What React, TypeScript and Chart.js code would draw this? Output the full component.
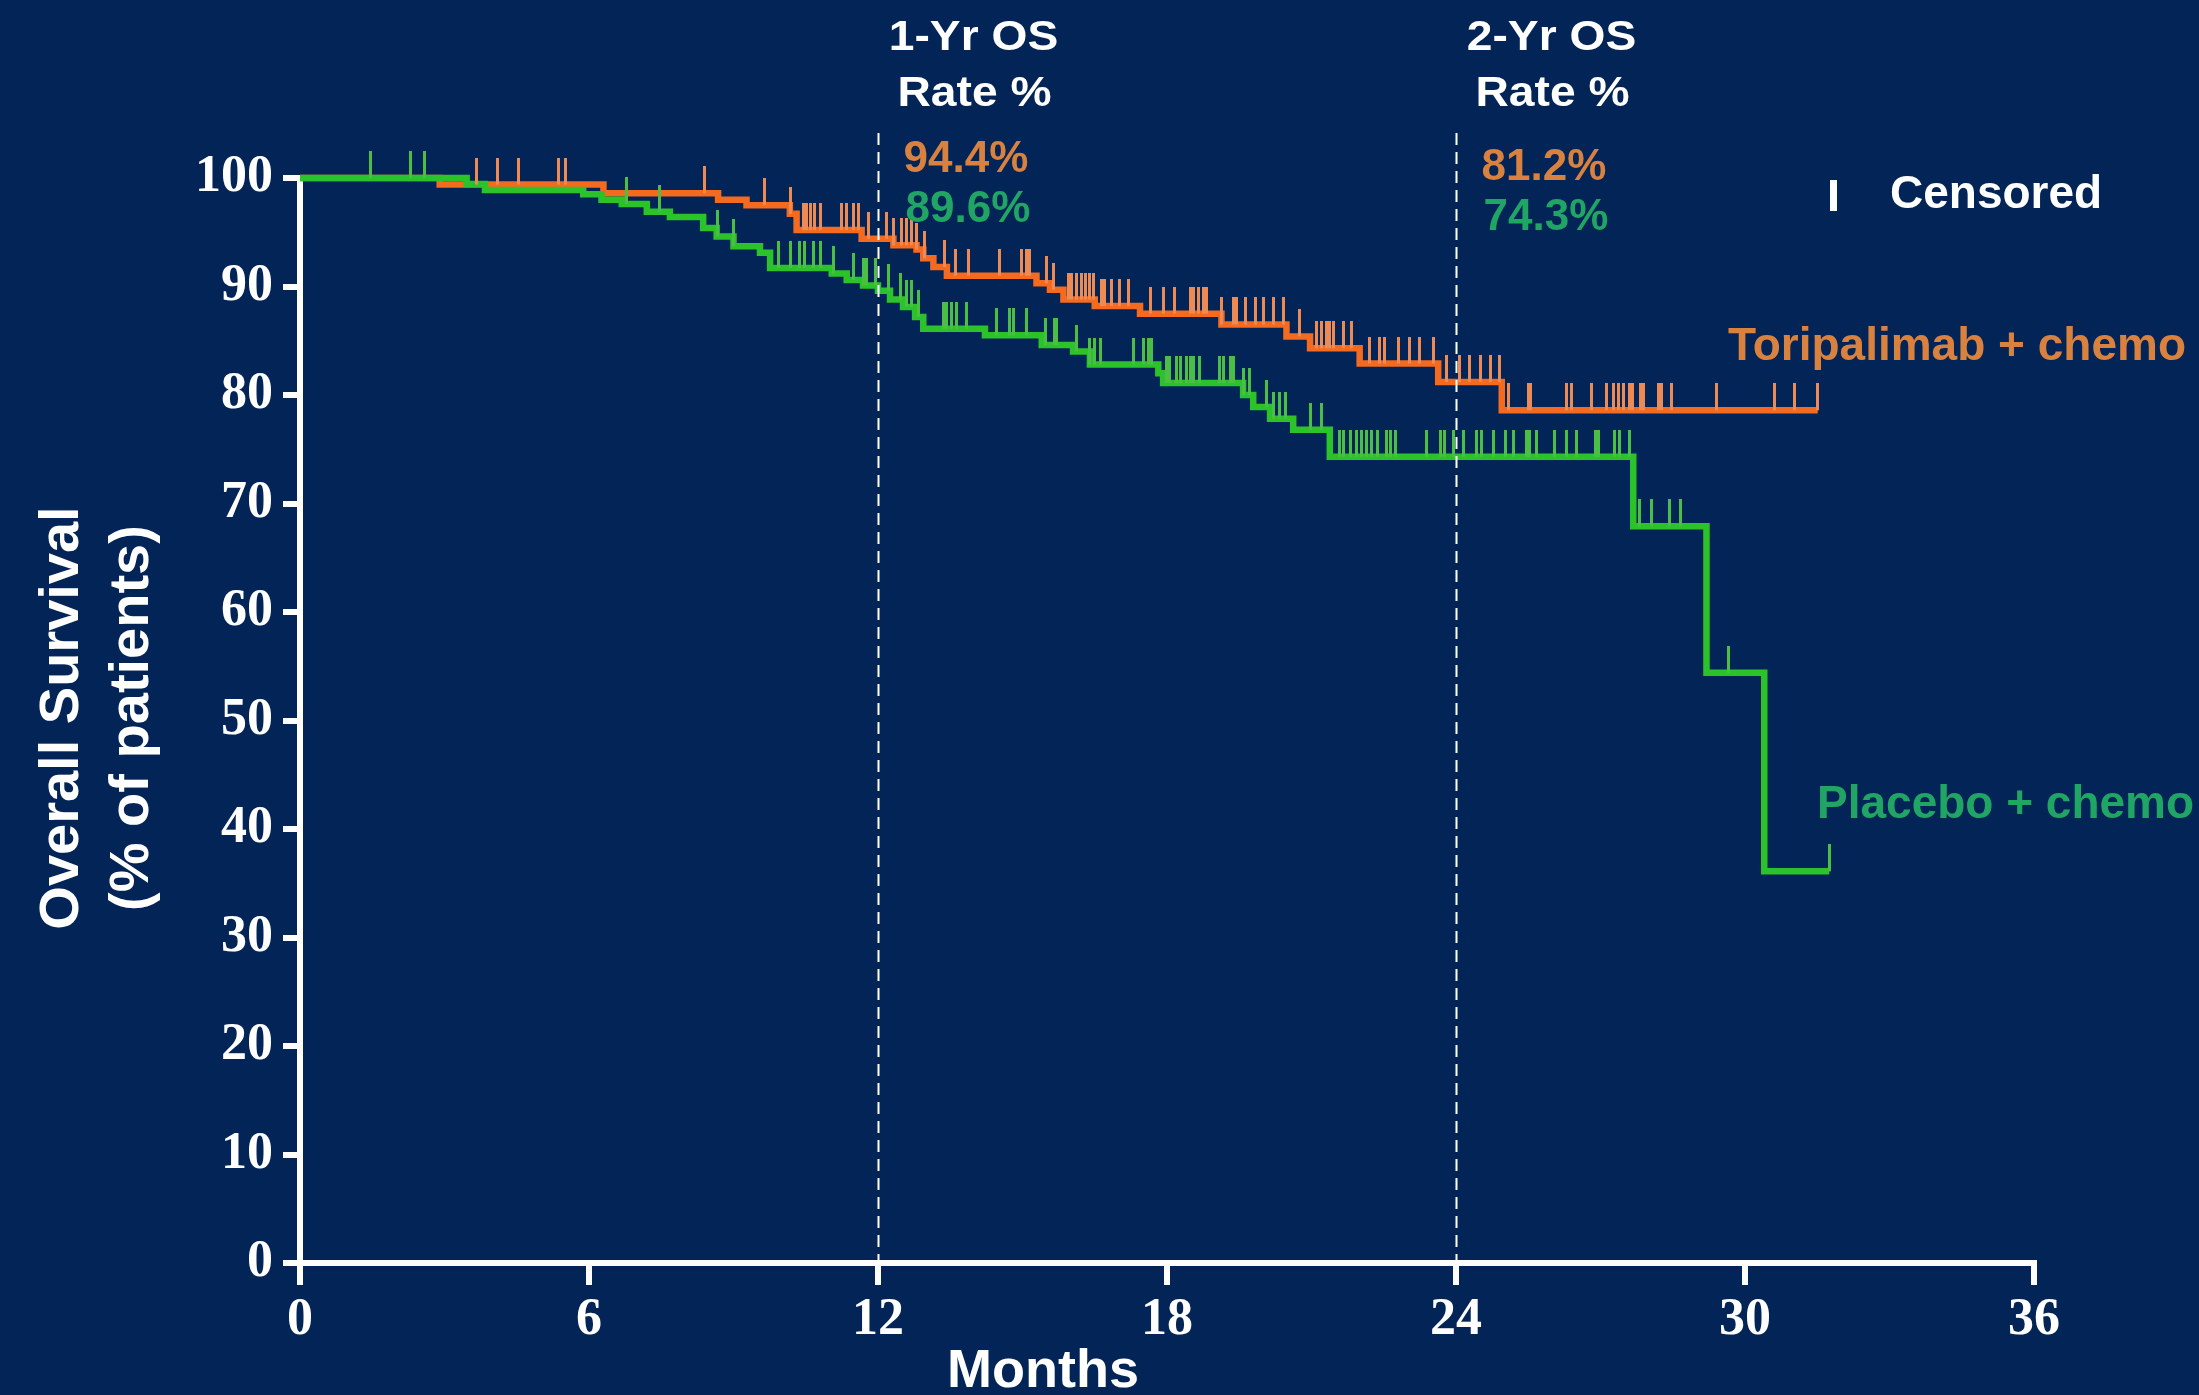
import React, { useEffect, useRef } from "react";
import { Chart, registerables } from "chart.js";

Chart.register(...registerables);

// ---------------- data ----------------
const xTickValues = [0, 6, 12, 18, 24, 30, 36];
const yTickValues = [0, 10, 20, 30, 40, 50, 60, 70, 80, 90, 100];

// Toripalimab + chemo (Kaplan-Meier steps: month, % surviving after the step)
const toriTimes = [0, 2.9, 6.3, 8.68, 9.27, 10.17, 10.31, 11.66, 12.32, 12.8, 12.94, 13.15, 13.43, 15.29, 15.57, 15.85, 16.5, 17.44, 19.13, 20.48, 20.97, 22.0, 23.63, 24.95, 31.51];
const toriValues = [100, 99.4, 98.6, 98.0, 97.5, 96.7, 95.2, 94.4, 93.8, 93.4, 92.6, 91.8, 91.0, 90.3, 89.7, 88.8, 88.2, 87.5, 86.5, 85.4, 84.3, 82.9, 81.2, 78.6, 78.6];
const toriCensored = [3.67, 4.1, 4.54, 5.36, 5.52, 8.39, 9.65, 10.19, 10.45, 10.52, 10.59, 10.69, 10.8, 11.25, 11.35, 11.49, 11.59, 11.8, 12.18, 12.32, 12.49, 12.6, 12.7, 12.8, 12.97, 13.39, 13.6, 13.87, 14.53, 14.98, 15.09, 15.15, 15.5, 15.64, 15.95, 16.02, 16.12, 16.23, 16.3, 16.4, 16.47, 16.64, 16.71, 16.85, 17.02, 17.2, 17.65, 17.92, 18.16, 18.48, 18.54, 18.65, 18.75, 18.82, 19.13, 19.38, 19.45, 19.62, 19.83, 20.0, 20.21, 20.41, 20.76, 21.11, 21.21, 21.31, 21.38, 21.45, 21.66, 21.83, 22.21, 22.42, 22.52, 22.8, 23.04, 23.25, 23.53, 23.81, 24.08, 24.29, 24.5, 24.71, 24.91, 25.1, 25.5, 25.55, 26.3, 26.4, 26.82, 27.12, 27.28, 27.38, 27.47, 27.6, 27.66, 27.83, 27.89, 28.2, 28.27, 28.48, 29.41, 30.62, 31.02, 31.51];

// Placebo + chemo
const placTimes = [0, 3.46, 3.84, 5.88, 6.26, 6.68, 7.2, 7.68, 8.37, 8.65, 9.0, 9.55, 9.76, 11.04, 11.35, 11.69, 12.0, 12.25, 12.52, 12.77, 12.94, 14.22, 15.4, 16.05, 16.4, 17.82, 17.92, 19.58, 19.79, 20.14, 20.62, 21.38, 27.68, 29.2, 30.4, 31.75];
const placValues = [100, 99.45, 98.9, 98.5, 98.0, 97.6, 96.9, 96.4, 95.4, 94.6, 93.7, 93.1, 91.7, 91.2, 90.6, 90.1, 89.6, 88.8, 88.1, 87.2, 86.1, 85.5, 84.6, 84.0, 82.8, 82.0, 81.1, 80.0, 78.9, 77.8, 76.8, 74.3, 67.9, 54.4, 36.1, 36.1];
const placCensored = [1.47, 2.3, 2.59, 6.78, 7.46, 8.66, 9.01, 9.94, 10.19, 10.38, 10.48, 10.66, 10.8, 11.07, 11.49, 11.69, 11.76, 11.94, 12.21, 12.46, 12.59, 12.7, 12.84, 13.36, 13.42, 13.53, 13.63, 13.84, 14.46, 14.74, 14.81, 15.09, 15.47, 15.67, 15.71, 16.12, 16.4, 16.5, 16.61, 17.3, 17.51, 17.61, 17.68, 17.99, 18.06, 18.2, 18.27, 18.41, 18.48, 18.54, 18.68, 19.1, 19.17, 19.31, 19.38, 19.58, 19.72, 20.07, 20.21, 20.34, 20.45, 20.97, 21.21, 21.59, 21.66, 21.8, 21.94, 22.04, 22.15, 22.25, 22.36, 22.56, 22.63, 22.74, 23.39, 23.67, 23.77, 23.94, 24.15, 24.43, 24.53, 24.77, 25.02, 25.19, 25.47, 25.53, 25.67, 26.05, 26.3, 26.51, 26.89, 26.96, 27.3, 27.4, 27.61, 27.8, 28.05, 28.44, 28.67, 29.66, 31.75];

const milestoneMonths = [12, 24];
const milestoneTitles = ["1-Yr OS", "2-Yr OS"];
const toriRates = ["94.4%", "81.2%"];
const placRates = ["89.6%", "74.3%"];
const seriesNames = ["Toripalimab + chemo", "Placebo + chemo"];

// ---------------- styles ----------------
const BG = "#022456";
const ORANGE_LINE = "#F46A1F";
const GREEN_LINE = "#2CC22A";
const ORANGE_TICK = "#EE8B55";
const GREEN_TICK = "#4BBE45";
const ORANGE_TEXT = "#D9813F";
const GREEN_TEXT = "#20A565";
const SANS = '"Liberation Sans", Arial, sans-serif';
const SERIF = '"Liberation Serif", "Times New Roman", serif';

function stepValue(times: number[], values: number[], t: number): number {
  let v = values[0];
  for (let i = 0; i < times.length; i++) if (times[i] <= t) v = values[i];
  return v;
}

function makeTickImage(color: string): HTMLCanvasElement {
  const c = document.createElement("canvas");
  c.width = 3;
  c.height = 54;
  const g = c.getContext("2d")!;
  g.fillStyle = color;
  g.fillRect(0, 0, 3, 27);
  return c;
}

function txt(ctx: CanvasRenderingContext2D, s: string, x: number, y: number, size: number, color: string, align: CanvasTextAlign = "left", sx = 1) {
  ctx.save();
  ctx.font = `bold ${size}px ${SANS}`;
  ctx.fillStyle = color;
  ctx.textAlign = align;
  ctx.textBaseline = "alphabetic";
  ctx.translate(x, y);
  ctx.scale(sx, 1);
  ctx.fillText(s, 0, 0);
  ctx.restore();
}

const bgPlugin = {
  id: "bg",
  beforeDraw(chart: any) {
    const ctx = chart.ctx;
    ctx.save();
    ctx.fillStyle = BG;
    ctx.fillRect(0, 0, chart.width, chart.height);
    ctx.restore();
  },
};

const annotationPlugin = {
  id: "annot",
  afterDraw(chart: any) {
    const ctx: CanvasRenderingContext2D = chart.ctx;
    const xs = chart.scales.x;
    const area = chart.chartArea;

    // dashed milestone lines
    milestoneMonths.forEach((m, i) => {
      const px = Math.round(xs.getPixelForValue(m)) + 0.5;
      ctx.save();
      ctx.strokeStyle = "#ffffff";
      ctx.lineWidth = 2;
      ctx.setLineDash([12, 7]);
      ctx.beginPath();
      ctx.moveTo(px, 133);
      ctx.lineTo(px, area.bottom);
      ctx.stroke();
      ctx.restore();

      txt(ctx, milestoneTitles[i], px + 95, 50, 42, "#ffffff", "center", 1.1);
      txt(ctx, "Rate %", px + 96, 106, 42, "#ffffff", "center", 1.1);
      txt(ctx, toriRates[i], px + 25, i === 0 ? 172 : 180, 44, ORANGE_TEXT, "left");
      txt(ctx, placRates[i], px + 27, i === 0 ? 222 : 230, 44, GREEN_TEXT, "left");
    });

    // censored legend
    ctx.save();
    ctx.fillStyle = "#ffffff";
    ctx.fillRect(1830, 180, 7, 31);
    ctx.restore();
    txt(ctx, "Censored", 1890, 208, 46, "#ffffff", "left");

    // series labels
    txt(ctx, seriesNames[0], 1728, 360, 46, ORANGE_TEXT, "left");
    txt(ctx, seriesNames[1], 1817, 818, 46, GREEN_TEXT, "left");

    // axis titles
    txt(ctx, "Months", 1043, 1387, 54, "#ffffff", "center");
    ctx.save();
    ctx.translate(78, 718);
    ctx.rotate(-Math.PI / 2);
    txt(ctx, "Overall Survival", 0, 0, 56, "#ffffff", "center");
    ctx.restore();
    ctx.save();
    ctx.translate(148, 718);
    ctx.rotate(-Math.PI / 2);
    txt(ctx, "(% of patients)", 0, 0, 56, "#ffffff", "center");
    ctx.restore();
  },
};

export default function App() {
  const ref = useRef<HTMLCanvasElement | null>(null);

  useEffect(() => {
    document.body.style.margin = "0";
    document.body.style.overflow = "hidden";
    document.body.style.background = BG;
    const canvas = ref.current!;
    const toriTick = makeTickImage(ORANGE_TICK);
    const placTick = makeTickImage(GREEN_TICK);

    const chart = new Chart(canvas, {
      type: "line",
      data: {
        datasets: [
          {
            label: "Toripalimab censored",
            data: toriCensored.map((t) => ({ x: t, y: stepValue(toriTimes, toriValues, t) })),
            showLine: false,
            pointStyle: toriTick as any,
            pointRadius: 3,
            clip: false as any,
          },
          {
            label: "Placebo censored",
            data: placCensored.map((t) => ({ x: t, y: stepValue(placTimes, placValues, t) })),
            showLine: false,
            pointStyle: placTick as any,
            pointRadius: 3,
            clip: false as any,
          },
          {
            label: seriesNames[1],
            data: placTimes.map((t, i) => ({ x: t, y: placValues[i] })),
            stepped: true,
            borderColor: GREEN_LINE,
            borderWidth: 6.5,
            pointRadius: 0,
            fill: false,
            borderJoinStyle: "miter",
            borderCapStyle: "butt",
            clip: false as any,
          },
          {
            label: seriesNames[0],
            data: toriTimes.map((t, i) => ({ x: t, y: toriValues[i] })),
            stepped: true,
            borderColor: ORANGE_LINE,
            borderWidth: 6.5,
            pointRadius: 0,
            fill: false,
            borderJoinStyle: "miter",
            borderCapStyle: "butt",
            clip: false as any,
          },
        ],
      },
      options: {
        responsive: false,
        animation: false,
        devicePixelRatio: 1,
        events: [],
        layout: { padding: { left: 0, top: 178, right: 165, bottom: 0 } },
        plugins: {
          legend: { display: false },
          tooltip: { enabled: false },
          title: { display: false },
        },
        scales: {
          x: {
            type: "linear",
            min: 0,
            max: 36,
            afterBuildTicks: (s: any) => {
              s.ticks = xTickValues.map((v) => ({ value: v }));
            },
            afterFit: (s: any) => {
              s.height = 132;
            },
            grid: {
              display: true,
              drawOnChartArea: false,
              drawTicks: true,
              tickLength: 22,
              tickWidth: 6,
              tickColor: "#ffffff",
              color: "#ffffff",
              lineWidth: 6,
            },
            border: { display: true, color: "#ffffff", width: 6 },
            ticks: {
              color: "#ffffff",
              font: { family: SERIF, size: 52, weight: "bold" },
              padding: 4,
              maxRotation: 0,
              autoSkip: false,
            },
          },
          y: {
            type: "linear",
            min: 0,
            max: 100,
            afterBuildTicks: (s: any) => {
              s.ticks = yTickValues.map((v) => ({ value: v }));
            },
            afterFit: (s: any) => {
              s.width = 300;
            },
            grid: {
              display: true,
              drawOnChartArea: false,
              drawTicks: true,
              tickLength: 17,
              tickWidth: 6,
              tickColor: "#ffffff",
              color: "#ffffff",
              lineWidth: 6,
            },
            border: { display: true, color: "#ffffff", width: 6 },
            ticks: {
              color: "#ffffff",
              font: { family: SERIF, size: 52, weight: "bold" },
              padding: 10,
              autoSkip: false,
            },
          },
        },
      } as any,
      plugins: [bgPlugin, annotationPlugin],
    });

    return () => chart.destroy();
  }, []);

  return (
    <div style={{ position: "absolute", left: 0, top: 0, width: 2199, height: 1395 }}>
      <canvas ref={ref} width={2199} height={1395} style={{ width: 2199, height: 1395, display: "block" }} />
    </div>
  );
}
